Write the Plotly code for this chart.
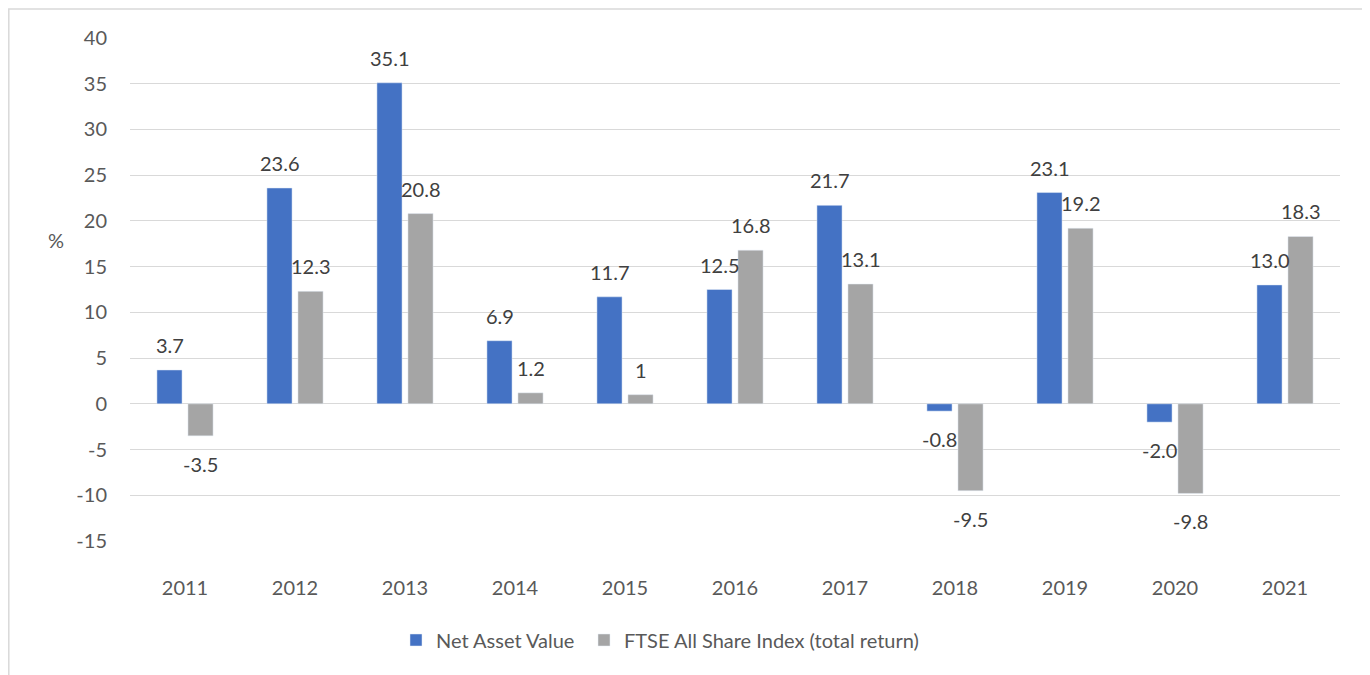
import plotly.graph_objects as go

years = ["2011", "2012", "2013", "2014", "2015", "2016", "2017", "2018", "2019", "2020", "2021"]
nav = [3.7, 23.6, 35.1, 6.9, 11.7, 12.5, 21.7, -0.8, 23.1, -2.0, 13.0]
ftse = [-3.5, 12.3, 20.8, 1.2, 1.0, 16.8, 13.1, -9.5, 19.2, -9.8, 18.3]
nav_labels = ["3.7", "23.6", "35.1", "6.9", "11.7", "12.5", "21.7", "-0.8", "23.1", "-2.0", "13.0"]
ftse_labels = ["-3.5", "12.3", "20.8", "1.2", "1", "16.8", "13.1", "-9.5", "19.2", "-9.8", "18.3"]
y_ticks = [-15, -10, -5, 0, 5, 10, 15, 20, 25, 30, 35, 40]
y_ticktext = ["-15", "-10", "-5", "0", "5", "10", "15", "20", "25", "30", "35", "40"]

FONT = "Lato"
OFF = 8  # page body margin
W, H = 1370 - OFF, 675 - OFF
L, T = 130 - OFF, 38 - OFF
R = W - (1340 - OFF)
B = H - (541 - OFF)
pw = W - L - R
ph = H - T - B


def px_x(page_x):
    return (page_x - OFF - L) / pw


def px_y(page_y):
    return (ph - (page_y - OFF - T)) / ph


fig = go.Figure()
fig.add_trace(go.Bar(name="Net Asset Value", x=years, y=nav, marker_color="#4472C4", legend="legend"))
fig.add_trace(go.Bar(name="FTSE All Share Index (total return)", x=years, y=ftse,
                     marker_color="#A5A5A5", legend="legend2"))

lab_font = dict(size=20, color="#404040", family=FONT)
ann = []
for i, (v, t) in enumerate(zip(nav, nav_labels)):
    ann.append(dict(x=i, y=v, xref="x", yref="y", text=t, showarrow=False, xshift=-15.5,
                    yshift=25 if v >= 0 else -28, font=lab_font))
for i, (v, t) in enumerate(zip(ftse, ftse_labels)):
    ann.append(dict(x=i, y=v, xref="x", yref="y", text=t, showarrow=False, xshift=15.5,
                    yshift=25 if v >= 0 else -28, font=lab_font))
ann.append(dict(xref="paper", yref="paper", x=px_x(46), y=px_y(240), text="%",
                showarrow=False, font=dict(size=20, color="#595959", family=FONT)))
fig.update_layout(annotations=ann)

# chart border
fig.add_shape(type="rect", xref="paper", yref="paper",
              x0=px_x(8.8), x1=px_x(1368), y0=px_y(700), y1=px_y(9),
              line=dict(color="#D9D9D9", width=1.5), fillcolor="rgba(0,0,0,0)", layer="below")

leg_font = dict(size=20, color="#595959", family=FONT)
fig.update_layout(
    width=W, height=H,
    margin=dict(l=L, r=R, t=T, b=B),
    paper_bgcolor="white", plot_bgcolor="white",
    barmode="group", bargap=0.436, bargroupgap=0.19,
    font=dict(family=FONT, size=20, color="#595959"),
    showlegend=True,
    legend=dict(orientation="h", xanchor="left", yanchor="middle",
                x=px_x(396), y=px_y(640), font=leg_font),
    legend2=dict(orientation="h", xanchor="left", yanchor="middle",
                 x=px_x(584), y=px_y(640), font=leg_font),
    xaxis=dict(type="category", range=[-0.5, 10.5], showgrid=False, showline=False, zeroline=False,
               ticks="", ticklabelstandoff=33, tickfont=dict(size=20, color="#595959")),
    yaxis=dict(range=[-15, 40], tickvals=y_ticks, ticktext=y_ticktext, showgrid=True,
               gridcolor="#D9D9D9", gridwidth=1,
               zeroline=True, zerolinecolor="#D9D9D9", zerolinewidth=1, showline=False, ticks="",
               ticklabelstandoff=22, tickfont=dict(size=20, color="#595959")),
)

fig.write_html("out.html")
